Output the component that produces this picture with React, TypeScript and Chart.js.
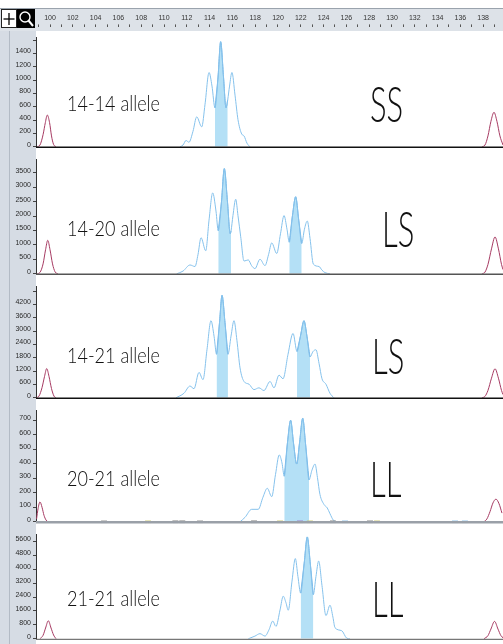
import React, { useEffect, useRef } from 'react';
import { Chart, registerables } from 'chart.js';

Chart.register(...registerables);

// ---------------- data ----------------
const X_MIN = 98.77;
const X_MAX = 139.74;

const RULER_TICKS = [99, 100, 101, 102, 103, 104, 105, 106, 107, 108, 109, 110, 111, 112, 113, 114, 115, 116, 117, 118, 119, 120, 121, 122, 123, 124, 125, 126, 127, 128, 129, 130, 131, 132, 133, 134, 135, 136, 137, 138, 139];
const RULER_LABELS = [100, 102, 104, 106, 108, 110, 112, 114, 116, 118, 120, 122, 124, 126, 128, 130, 132, 134, 136, 138];

const ALLELES = ['14-14 allele', '14-20 allele', '14-21 allele', '20-21 allele', '21-21 allele'];
const GENOTYPES = ['SS', 'LS', 'LS', 'LL', 'LL'];

const Y_MAX = [1644, 3975, 5020, 769, 6010];
const TICKS_1 = [0, 200, 400, 600, 800, 1000, 1200, 1400, 1600];
const TICKS_2 = [0, 500, 1000, 1500, 2000, 2500, 3000, 3500];
const TICKS_3 = [0, 600, 1200, 1800, 2400, 3000, 3600, 4200, 4800];
const TICKS_4 = [0, 100, 200, 300, 400, 500, 600, 700];
const TICKS_5 = [0, 800, 1600, 2400, 3200, 4000, 4800, 5600];
const UNLABELED_TICK = [1600, null, 4800, null, null];

// blue trace [size (bp), RFU]
const TRACE_1: [number, number][] = [
  [111.40, 0], [111.67, 27], [111.93, 95], [112.19, 68], [112.54, 231], [112.87, 449], [113.31, 299],
  [113.60, 639], [113.95, 1115], [114.21, 911], [114.47, 585], [114.74, 1047], [114.97, 1577],
  [115.22, 1047], [115.44, 585], [115.59, 706], [115.75, 911], [115.96, 1115], [116.23, 775],
  [116.49, 408], [116.82, 191], [117.02, 163], [117.28, 54], [117.54, 0],
];
const FILLS_1: [number, number][] = [[114.47, 115.59]];

const TRACE_2: [number, number][] = [
  [111.11, 0], [111.67, 94], [112.28, 306], [112.72, 253], [112.98, 662], [113.25, 1252], [113.66, 798],
  [113.95, 1862], [114.27, 2808], [114.56, 2177], [114.76, 1492], [115.04, 2493], [115.29, 3651],
  [115.57, 2493], [115.81, 1388], [115.88, 1483], [116.05, 2019], [116.29, 2587], [116.49, 2019],
  [116.73, 1284], [117.02, 441], [117.39, 483], [117.68, 284], [117.98, 180], [118.42, 505],
  [118.86, 284], [119.17, 662], [119.45, 1072], [119.89, 704], [120.22, 1388], [120.53, 2019],
  [120.79, 1546], [120.99, 1095], [121.27, 2019], [121.55, 2673], [121.82, 1862], [122.08, 1051],
  [122.32, 1546], [122.57, 1830], [122.81, 1231], [123.10, 337], [123.60, 253], [123.86, 126],
  [124.12, 41], [124.56, 0],
];
const FILLS_2: [number, number][] = [[114.76, 115.88], [120.99, 122.08]];

const TRACE_3: [number, number][] = [
  [111.05, 0], [111.75, 204], [112.28, 530], [112.63, 408], [113.07, 1142], [113.42, 816], [113.77, 2162],
  [114.12, 3468], [114.39, 2774], [114.61, 1958], [114.87, 3387], [115.09, 4611], [115.35, 3387],
  [115.61, 1958], [115.88, 2774], [116.14, 3468], [116.40, 2570], [116.67, 1346], [117.02, 734],
  [117.46, 612], [117.89, 368], [118.33, 448], [118.77, 326], [119.30, 734], [119.65, 448],
  [120.09, 1020], [120.44, 857], [120.88, 1958], [121.32, 2897], [121.67, 2081], [121.97, 2774],
  [122.28, 3468], [122.54, 2774], [122.81, 1836], [123.07, 2081], [123.33, 2162], [123.60, 1550],
  [123.86, 857], [124.21, 612], [124.56, 204], [124.91, 0],
];
const FILLS_3: [number, number][] = [[114.61, 115.61], [121.67, 122.81]];

const TRACE_4: [number, number][] = [
  [116.67, 0], [117.11, 31], [117.69, 86], [118.27, 86], [118.68, 169], [119.06, 231], [119.45, 173],
  [119.78, 325], [120.11, 461], [120.35, 406], [120.55, 314], [120.83, 544], [121.11, 700],
  [121.36, 544], [121.64, 398], [121.89, 544], [122.17, 714], [122.41, 544], [122.72, 289],
  [122.98, 356], [123.25, 398], [123.46, 306], [123.68, 189], [124.04, 119], [124.32, 96],
  [124.56, 56], [124.85, 12], [125.09, 0],
];
const FILLS_4: [number, number][] = [[120.55, 122.72]];

const TRACE_5: [number, number][] = [
  [117.39, 0], [117.98, 155], [118.42, 295], [118.86, 155], [119.21, 518], [119.54, 1020], [119.82, 710],
  [120.18, 1658], [120.46, 2450], [120.70, 2072], [120.90, 1642], [121.23, 3315], [121.52, 4610],
  [121.75, 3574], [121.99, 2626], [122.30, 4351], [122.57, 5853], [122.83, 4351], [123.10, 2538],
  [123.33, 3574], [123.57, 4470], [123.86, 3056], [124.21, 1331], [124.56, 1932], [124.82, 1243],
  [125.00, 637], [125.59, 466], [126.03, 36], [126.32, 0],
];
const FILLS_5: [number, number][] = [[121.99, 123.10]];

// size-standard (red) peaks, left and right
const LADDER_1: [number, number][][] = [
  [[98.86, 0], [99.12, 27], [99.39, 182], [99.59, 363], [99.76, 476], [99.96, 363], [100.13, 163], [100.31, 36], [100.53, 0]],
  [[137.89, 0], [138.16, 27], [138.42, 163], [138.68, 381], [138.95, 517], [139.21, 381], [139.47, 163], [139.74, 27]],
];
const LADDER_2: [number, number][][] = [
  [[98.86, 0], [99.12, 49], [99.39, 344], [99.61, 836], [99.80, 1160], [100.00, 836], [100.22, 344], [100.44, 69], [100.70, 0]],
  [[137.89, 0], [138.16, 59], [138.42, 324], [138.73, 865], [139.04, 1278], [139.34, 865], [139.61, 324], [139.74, 147]],
];
const LADDER_3: [number, number][][] = [
  [[98.77, 0], [99.04, 83], [99.30, 460], [99.52, 965], [99.71, 1314], [99.91, 965], [100.13, 414], [100.35, 74], [100.53, 0]],
  [[137.89, 0], [138.16, 64], [138.42, 331], [138.73, 882], [139.04, 1305], [139.34, 882], [139.61, 331], [139.74, 147]],
];
const LADDER_4: [number, number][][] = [
  [[98.82, 20], [98.95, 90], [99.12, 137], [99.30, 100], [99.47, 45], [99.65, 12], [99.82, 0]],
  [[138.07, 0], [138.33, 20], [138.60, 70], [138.86, 130], [139.12, 156], [139.39, 125], [139.65, 60]],
];
const LADDER_5: [number, number][][] = [
  [[99.12, 0], [99.39, 200], [99.61, 620], [99.85, 1036], [100.09, 620], [100.31, 220], [100.53, 0]],
  [[138.07, 0], [138.42, 180], [138.68, 560], [139.00, 1000], [139.30, 560], [139.56, 180], [139.74, 60]],
];

// off-scale marks of other dye channels on the 20-21 baseline
const MARKS_4_BP = [104.74, 108.6, 111.0, 111.6, 113.16, 117.9, 120.18, 121.93, 122.8, 124.82, 125.88, 128.07, 128.68, 135.53, 136.4];
const MARKS_4_COLOR = ['#8a8a8a', '#c9c46a', '#6d6d6d', '#6d6d6d', '#8a8a8a', '#6d6d6d', '#c9c46a', '#9a78c4', '#c9c46a', '#7a7a7a', '#86bde6', '#7a7a7a', '#c9c46a', '#86bde6', '#86bde6'];

// ---------------- layout / style ----------------
const TRACE_COLOR = '#86c2ec';
const FILL_COLOR = '#b4e0f6';
const FILL_LINE = '#74b6e6';
const LADDER_COLOR = '#a63a62';
const COLUMN_BG = '#d6dce4';

type PanelSpec = {
  top: number;
  height: number;
  yMax: number;
  ticks: number[];
  hidden: number | null;
  trace: [number, number][];
  fills: [number, number][];
  ladder: [number, number][][];
  baseColor: string;
  baseWidth: number;
  marks?: boolean;
  label: string;
  geno: string;
  labelY: number;
  genoX: number;
  genoY: number;
};

const PANELS: PanelSpec[] = [
  { top: 31, height: 122, yMax: Y_MAX[0], ticks: TICKS_1, hidden: UNLABELED_TICK[0], trace: TRACE_1, fills: FILLS_1, ladder: LADDER_1, baseColor: '#111', baseWidth: 1.5, label: ALLELES[0], geno: GENOTYPES[0], labelY: 103, genoX: 370, genoY: 103 },
  { top: 153, height: 127, yMax: Y_MAX[1], ticks: TICKS_2, hidden: UNLABELED_TICK[1], trace: TRACE_2, fills: FILLS_2, ladder: LADDER_2, baseColor: '#555', baseWidth: 1.5, label: ALLELES[1], geno: GENOTYPES[1], labelY: 228, genoX: 382, genoY: 228 },
  { top: 280, height: 124, yMax: Y_MAX[2], ticks: TICKS_3, hidden: UNLABELED_TICK[2], trace: TRACE_3, fills: FILLS_3, ladder: LADDER_3, baseColor: '#111', baseWidth: 1.5, label: ALLELES[2], geno: GENOTYPES[2], labelY: 355, genoX: 372, genoY: 355 },
  { top: 404, height: 124, yMax: Y_MAX[3], ticks: TICKS_4, hidden: UNLABELED_TICK[3], trace: TRACE_4, fills: FILLS_4, ladder: LADDER_4, baseColor: '#9aa0a8', baseWidth: 2.5, marks: true, label: ALLELES[3], geno: GENOTYPES[3], labelY: 478, genoX: 370, genoY: 478 },
  { top: 528, height: 117, yMax: Y_MAX[4], ticks: TICKS_5, hidden: UNLABELED_TICK[4], trace: TRACE_5, fills: FILLS_5, ladder: LADDER_5, baseColor: '#555', baseWidth: 1, label: ALLELES[4], geno: GENOTYPES[4], labelY: 598, genoX: 372, genoY: 598 },
];

const toPts = (arr: [number, number][]) => arr.map(([x, y]) => ({ x, y }));

const columnPlugin = {
  id: 'column',
  beforeDraw(chart: any) {
    const { ctx, chartArea, height } = chart;
    ctx.save();
    ctx.fillStyle = COLUMN_BG;
    ctx.fillRect(0, 0, chartArea.left, height);
    ctx.strokeStyle = '#b3bbc5';
    ctx.lineWidth = 1;
    ctx.beginPath();
    ctx.moveTo(9.5, 0);
    ctx.lineTo(9.5, height);
    ctx.stroke();
    ctx.restore();
  },
};

function Panel({ spec }: { spec: PanelSpec }) {
  const ref = useRef<HTMLCanvasElement>(null);
  useEffect(() => {
    if (!ref.current) return;
    const datasets: any[] = [];
    if (spec.marks) {
      datasets.push({
        data: MARKS_4_BP.map((x) => ({ x, y: 0 })),
        showLine: false,
        pointStyle: 'line',
        pointRadius: 3,
        pointBorderWidth: 2.5,
        pointBorderColor: MARKS_4_COLOR,
        pointBackgroundColor: MARKS_4_COLOR,
        clip: false,
      });
    }
    spec.ladder.forEach((pk) => {
      datasets.push({
        data: toPts(pk),
        borderColor: LADDER_COLOR,
        borderWidth: 1,
        pointRadius: 0,
        fill: false,
        cubicInterpolationMode: 'monotone',
      });
    });
    datasets.push({
      data: toPts(spec.trace),
      borderColor: TRACE_COLOR,
      borderWidth: 1,
      pointRadius: 0,
      fill: false,
      cubicInterpolationMode: 'monotone',
    });
    spec.fills.forEach(([a, b]) => {
      datasets.push({
        data: toPts(spec.trace.filter(([x]) => x >= a - 1e-6 && x <= b + 1e-6)),
        borderColor: FILL_LINE,
        borderWidth: 1,
        backgroundColor: FILL_COLOR,
        pointRadius: 0,
        fill: 'origin',
        cubicInterpolationMode: 'monotone',
      });
    });
    const basePlugin = {
      id: 'base',
      afterDatasetsDraw(chart: any) {
        const { ctx, chartArea } = chart;
        ctx.save();
        ctx.strokeStyle = spec.baseColor;
        ctx.lineWidth = spec.baseWidth;
        ctx.beginPath();
        ctx.moveTo(chartArea.left, chartArea.bottom + 0.5);
        ctx.lineTo(chartArea.right, chartArea.bottom + 0.5);
        ctx.stroke();
        ctx.restore();
      },
    };
    const chart = new Chart(ref.current, {
      type: 'line',
      data: { datasets },
      options: {
        animation: false,
        responsive: false,
        devicePixelRatio: 1,
        events: [],
        layout: { autoPadding: false, padding: { top: 0, bottom: 1, left: 0, right: 0 } },
        plugins: { legend: { display: false }, tooltip: { enabled: false } },
        scales: {
          x: { type: 'linear', min: X_MIN, max: X_MAX, display: false },
          y: {
            type: 'linear',
            min: 0,
            max: spec.yMax,
            afterFit: (s: any) => {
              s.width = 36;
            },
            afterBuildTicks: (s: any) => {
              s.ticks = spec.ticks.map((v) => ({ value: v }));
            },
            ticks: {
              callback: (v: any) => (v === spec.hidden ? '' : String(v)),
              font: { size: 7, family: 'Liberation Sans' },
              color: '#2a2a2a',
              padding: 2,
              labelOffset: -2,
            },
            grid: { drawOnChartArea: false, tickLength: 3, color: '#444', tickColor: '#444' },
            border: { display: true, color: '#333', width: 1 },
          },
        },
      } as any,
      plugins: [columnPlugin, basePlugin],
    });
    return () => chart.destroy();
  }, [spec]);
  return (
    <canvas
      ref={ref}
      width={503}
      height={spec.height}
      style={{ position: 'absolute', left: 0, top: spec.top, width: 503, height: spec.height, display: 'block' }}
    />
  );
}

function Ruler() {
  const ref = useRef<HTMLCanvasElement>(null);
  useEffect(() => {
    if (!ref.current) return;
    const chart = new Chart(ref.current, {
      type: 'line',
      data: { datasets: [] },
      options: {
        animation: false,
        responsive: false,
        devicePixelRatio: 1,
        events: [],
        layout: { autoPadding: false, padding: { top: 3, left: 36, right: 0, bottom: 0 } },
        plugins: { legend: { display: false }, tooltip: { enabled: false } },
        scales: {
          x: {
            type: 'linear',
            position: 'top',
            min: X_MIN,
            max: X_MAX,
            afterBuildTicks: (s: any) => {
              s.ticks = RULER_TICKS.map((v) => ({ value: v }));
            },
            ticks: {
              autoSkip: false,
              maxRotation: 0,
              minRotation: 0,
              callback: (v: any) => (RULER_LABELS.includes(v) ? String(v) : ''),
              font: { size: 7, family: 'Liberation Sans' },
              color: '#333',
              padding: 2,
            },
            grid: { drawOnChartArea: false, tickLength: 3, color: '#555', tickColor: '#555' },
            border: { display: false },
          },
          y: { display: false, min: 0, max: 1 },
        },
      } as any,
    });
    return () => chart.destroy();
  }, []);
  return (
    <div style={{ position: 'absolute', left: 0, top: 9, width: 503, height: 21, overflow: 'hidden' }}>
      <canvas
        ref={ref}
        width={503}
        height={80}
        style={{ position: 'absolute', left: 0, top: 0, width: 503, height: 80, display: 'block' }}
      />
    </div>
  );
}

export default function App() {
  return (
    <div
      style={{
        position: 'absolute',
        left: 0,
        top: 0,
        width: 503,
        height: 644,
        overflow: 'hidden',
        background: '#fff',
      }}
    >
      <div style={{ position: 'absolute', left: 0, top: 8, width: 503, height: 23, background: '#dde2e8', borderTop: '1px solid #9aa3ad', boxSizing: 'border-box' }} />
      <Ruler />
      <div style={{ position: 'absolute', left: 1, top: 9, width: 16, height: 19, background: '#fff', border: '1px solid #222', boxSizing: 'border-box' }}>
        <svg width="14" height="17" style={{ position: 'absolute', left: 0, top: 0 }}>
          <line x1="7" y1="3" x2="7" y2="15" stroke="#000" strokeWidth="1.3" />
          <line x1="1.5" y1="9" x2="12.5" y2="9" stroke="#000" strokeWidth="1.3" />
        </svg>
      </div>
      <div style={{ position: 'absolute', left: 17, top: 9, width: 18, height: 19, background: '#000' }}>
        <svg width="18" height="19" style={{ position: 'absolute', left: 0, top: 0 }}>
          <circle cx="8" cy="8" r="5" stroke="#fff" strokeWidth="1.4" fill="none" />
          <line x1="11.5" y1="11.5" x2="16" y2="17" stroke="#fff" strokeWidth="2" />
        </svg>
      </div>
      {PANELS.map((p, i) => (
        <Panel key={i} spec={p} />
      ))}
      {PANELS.map((p, i) => (
        <React.Fragment key={'t' + i}>
          <div
            style={{
              position: 'absolute',
              left: 67,
              top: p.labelY - 12,
              height: 24,
              lineHeight: '24px',
              fontFamily: 'Lato, "Noto Sans", sans-serif',
              fontWeight: 300,
              fontSize: 22,
              color: '#111',
              whiteSpace: 'nowrap',
              transform: 'scaleX(0.82)',
              transformOrigin: 'left center',
            }}
          >
            {p.label}
          </div>
          <div
            style={{
              position: 'absolute',
              left: p.genoX,
              top: p.genoY - 26,
              height: 52,
              lineHeight: '52px',
              fontFamily: 'Lato, "Noto Sans", sans-serif',
              fontWeight: 300,
              fontSize: 50,
              color: '#111',
              whiteSpace: 'nowrap',
              transform: 'scaleX(0.62)',
              transformOrigin: 'left center',
            }}
          >
            {p.geno}
          </div>
        </React.Fragment>
      ))}
    </div>
  );
}
